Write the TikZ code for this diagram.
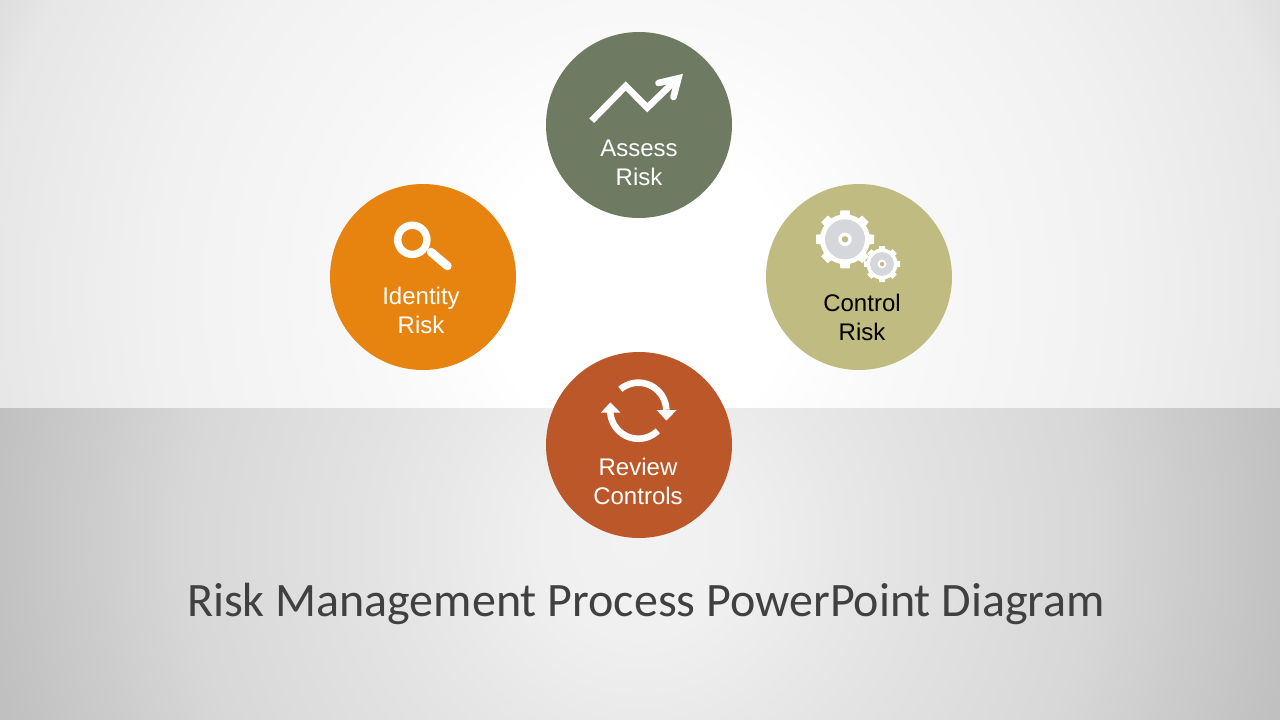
\documentclass[tikz,border=0pt]{standalone}
\usepackage{fontspec}
\setmainfont{Liberation Sans}
\newfontfamily\titlefont{Carlito}
% stops: 25bp corresponds to the shaded circle's radius (800 units)
\pgfdeclareradialshading{topbg}{\pgfpoint{0bp}{0bp}}{color(0bp)=(white); color(4.7bp)=(white); color(8.25bp)=(white!97.5!black); color(15bp)=(white!94.5!black); color(20.3bp)=(white!90.5!black); color(22bp)=(white!87!black); color(25bp)=(white!85!black); color(50bp)=(white!85!black)}
\pgfdeclareradialshading{botbg}{\pgfpoint{0bp}{0bp}}{color(0bp)=(white!95!black); color(3.1bp)=(white!94!black); color(7.8bp)=(white!89.5!black); color(14.1bp)=(white!84.5!black); color(20.3bp)=(white!75.5!black); color(25bp)=(white!73!black); color(50bp)=(white!73!black)}
\definecolor{assesscol}{HTML}{6E7A62}
\definecolor{identitycol}{HTML}{E7830F}
\definecolor{controlcol}{HTML}{C0BB80}
\definecolor{reviewcol}{HTML}{BC572A}
\definecolor{titlecol}{HTML}{404040}
\definecolor{gearcol}{HTML}{D6D7DB}
\tikzset{
  disc/.style={circle,minimum size=186pt,inner sep=0pt,draw=none},
  steplabel/.style={align=center,inner sep=0pt,font=\fontsize{24}{29}\selectfont},
  iconline/.style={draw=white,line width=6.6pt,fill=none},
}
\newcommand{\geartool}[6]{%
  \begin{scope}[shift={(#1,#2)}]
    \foreach \a in {0,45,...,315}
      \fill[white,rotate=\a] (-#3*0.19,#3*0.7) -- (-#3*0.16,#3) -- (#3*0.16,#3) -- (#3*0.19,#3*0.7) -- cycle;
    \fill[white] (0,0) circle (#4);
    \fill[gearcol] (0,0) circle (#5);
    \fill[white] (0,0) circle (#6);
    \fill[controlcol] (0,0) circle (#6*0.48);
  \end{scope}}
\begin{document}
\begin{tikzpicture}[x=1pt,y=-1pt]
\useasboundingbox (0,0) rectangle (1280,720);
\begin{scope}
  \clip (0,0) rectangle (1280,408);
  \shade[shading=topbg] (640,290) circle (800);
\end{scope}
\begin{scope}
  \clip (0,408) rectangle (1280,720);
  \shade[shading=botbg] (640,540) circle (800);
\end{scope}

\node[disc,fill=assesscol] (assess) at (639,125) {};
\node[disc,fill=identitycol] (identity) at (423,277) {};
\node[disc,fill=controlcol] (control) at (859,277) {};
\node[disc,fill=reviewcol] (review) at (639,445) {};

\node[steplabel,text=white] (assesstext) at (639,163) {Assess\\Risk};
\node[steplabel,text=white] (identitytext) at (421,310) {Identity\\Risk};
\node[steplabel,text=black] (controltext) at (862,317) {Control\\Risk};
\node[steplabel,text=white] (reviewtext) at (638,481) {Review\\Controls};

\node[inner sep=0pt,text=titlecol,font=\titlefont\fontsize{48}{48}\selectfont] (title) at (646,604) {Risk Management Process PowerPoint Diagram};

% rising arrow icon
\draw[iconline,miter limit=10] (591.7,120.7) -- (625.7,86) -- (647.3,107.7) -- (677,79);
\draw[iconline,miter limit=10,line cap=round] (658.5,83) -- (678.4,78.3) -- (673.5,97);

% magnifier icon
\draw[draw=white,line width=7.4pt] (412.3,239.8) circle (14.6);
\draw[draw=white,line width=8.5pt,line cap=round] (431,252) -- (447.5,266);

% gears
\geartool{845}{239.3}{29}{25}{20}{6.7}
\geartool{882}{264}{18}{15.5}{12}{4.5}

% refresh icon
\draw[iconline] plot[domain=130:2,samples=40] ({638.3+28*cos(\x)},{410.7-28*sin(\x)});
\fill[white] (656.7,410) -- (676.7,410) -- (666.3,420.5) -- cycle;
\draw[iconline] plot[domain=-46:-178,samples=40] ({638.3+28*cos(\x)},{410.7-28*sin(\x)});
\fill[white] (600.7,412.7) -- (620.7,412.7) -- (610.3,402.5) -- cycle;
\end{tikzpicture}
\end{document}
